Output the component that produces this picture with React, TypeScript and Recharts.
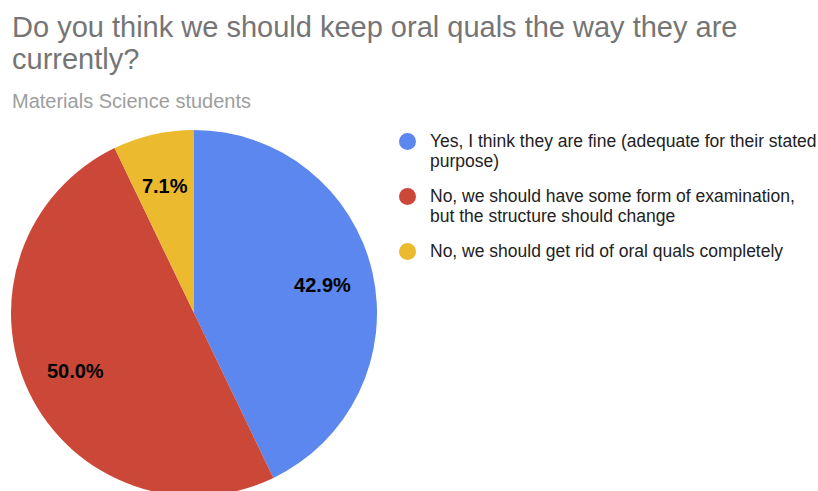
import React from "react";
import { PieChart, Pie, Cell } from "recharts";

const categories = [
  "Yes, I think they are fine (adequate for their stated purpose)",
  "No, we should have some form of examination, but the structure should change",
  "No, we should get rid of oral quals completely",
];
const responses = [6, 7, 1];
const colors = ["#5B87EE", "#CB4839", "#EBBA2E"];
const titleLines = ["Do you think we should keep oral quals the way they are", "currently?"];
const subtitle = "Materials Science students";

const data = categories.map((name, i) => ({ name, value: responses[i] }));
const total = responses.reduce((a, b) => a + b, 0);
const RAD = Math.PI / 180;
const FONT = "'Liberation Sans', Arial, sans-serif";

const renderLabel = (props: any) => {
  const { cx, cy, midAngle, outerRadius, value } = props;
  const r = outerRadius * 0.72;
  const x = cx + r * Math.cos(-midAngle * RAD);
  const y = cy + r * Math.sin(-midAngle * RAD) + 1;
  return (
    <text
      x={x}
      y={y}
      fill="#000000"
      textAnchor="middle"
      dominantBaseline="central"
      fontFamily={FONT}
      fontSize={20}
      fontWeight="bold"
    >
      {((value / total) * 100).toFixed(1) + "%"}
    </text>
  );
};

export default function App() {
  return (
    <div
      style={{
        position: "fixed",
        left: 0,
        top: 0,
        width: 818,
        height: 491,
        background: "#ffffff",
        overflow: "hidden",
        fontFamily: FONT,
      }}
    >
      <div style={{ position: "absolute", left: 12, top: 11, fontSize: 29, lineHeight: "32px", color: "#757575", whiteSpace: "nowrap" }}>
        {titleLines[0]}
      </div>
      <div style={{ position: "absolute", left: 12, top: 43, fontSize: 29, lineHeight: "32px", color: "#757575", whiteSpace: "nowrap" }}>
        {titleLines[1]}
      </div>
      <div style={{ position: "absolute", left: 12, top: 90, fontSize: 20, lineHeight: "22px", color: "#9E9E9E", whiteSpace: "nowrap" }}>
        {subtitle}
      </div>
      <div style={{ position: "absolute", left: 0, top: 0 }}>
        <PieChart width={818} height={491}>
          <Pie
            data={data}
            dataKey="value"
            nameKey="name"
            cx={189}
            cy={308}
            outerRadius={183}
            startAngle={90}
            endAngle={-270}
            stroke="none"
            label={renderLabel}
            labelLine={false}
            isAnimationActive={false}
          >
            {data.map((d, i) => (
              <Cell key={d.name} fill={colors[i]} />
            ))}
          </Pie>
        </PieChart>
      </div>
      <div style={{ position: "absolute", left: 399, top: 131 }}>
        {data.map((d, i) => (
          <div key={d.name} style={{ position: "relative", marginBottom: 15, paddingLeft: 31, width: 392, fontSize: 17.5, lineHeight: "20px", color: "#222222" }}>
            <span
              style={{
                position: "absolute",
                left: 0,
                top: 1.5,
                width: 17,
                height: 17,
                borderRadius: 9,
                background: colors[i],
              }}
            />
            {d.name}
          </div>
        ))}
      </div>
    </div>
  );
}
